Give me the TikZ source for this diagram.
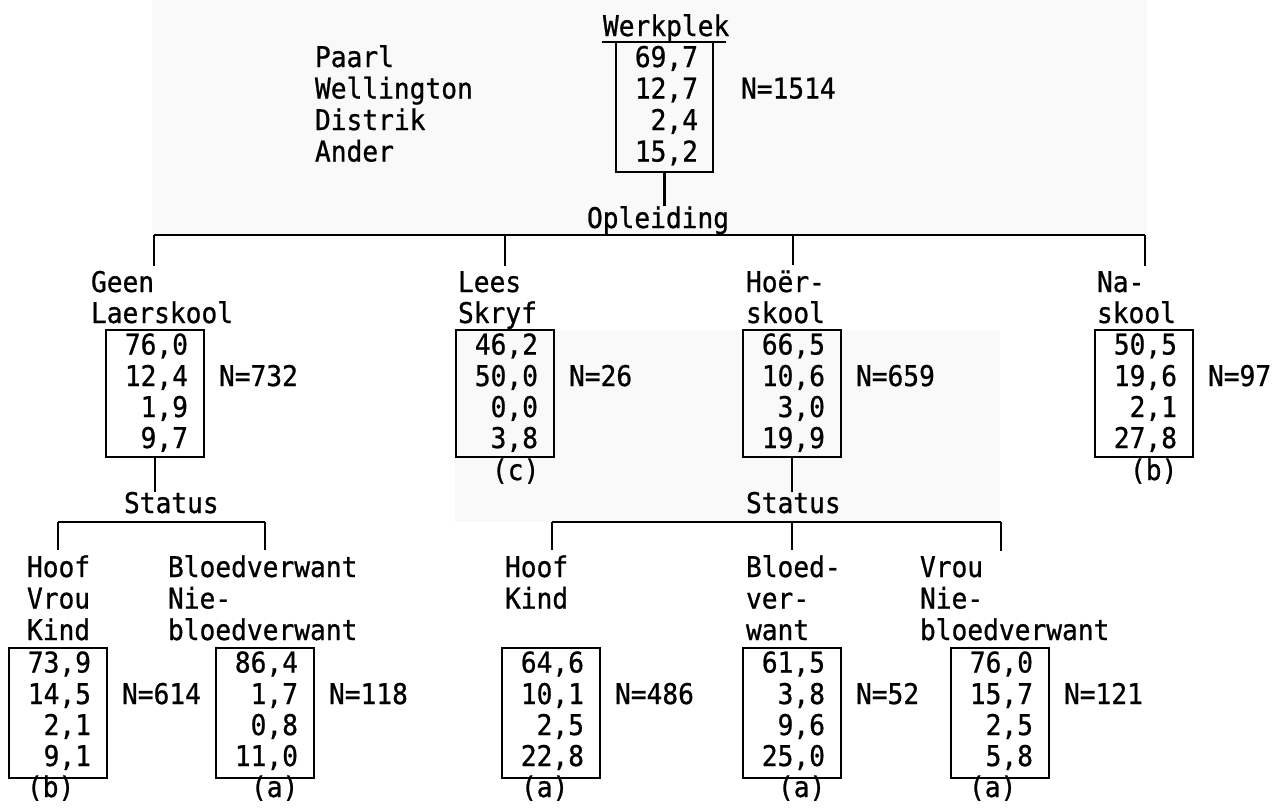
\documentclass[tikz,border=0pt]{standalone}
\usepackage{fontspec}
\newfontfamily\twfont[FakeStretch=0.92,FakeBold=0.8]{DejaVu Sans Mono}
\newcommand\databox[9]{%
  \node[boxnode, minimum height=#9pt, anchor=north west] (#1) at (#2,#3) {};
  \node[num] (#1-r1) at ({#2+82},{#3+24.5}) {#4};
  \node[num] (#1-r2) at ({#2+82},{#3+56}) {#5};
  \node[num] (#1-r3) at ({#2+82},{#3+87}) {#6};
  \node[num] (#1-r4) at ({#2+82},{#3+118}) {#7};
  \node[lbl] (#1-n) at ({#2+113},{#3+56}) {#8};
}
\begin{document}
\begin{tikzpicture}[x=1pt,y=-1pt,
  txt/.style={inner sep=0pt, outer sep=0pt, font=\twfont\fontsize{28.5}{31.5}\selectfont},
  lbl/.style={txt, anchor=base west},
  num/.style={txt, anchor=base east},
  ln/.style={line width=2.4pt},
  boxnode/.style={draw, line width=2.4pt, inner sep=0pt, outer sep=0pt, minimum width=98pt}
]
\useasboundingbox (0,0) rectangle (1286,809);
% faint scan shading
\fill[black!2.5] (152,0) rectangle (1147,235);
\fill[black!2.5] (455,331) rectangle (1000,522);

% ---- root ----
\node[lbl] (werk) at (603,36) {Werkplek};
\draw[ln] ([shift={(-1,6)}]werk.base west) -- ([shift={(-3,6)}]werk.base east);
\node[inner sep=0pt, outer sep=0pt, minimum width=97pt, minimum height=130pt, anchor=north west] (topbox) at (616,42) {};
\draw[ln] (topbox.north west) -- (topbox.south west) -- (topbox.south east) -- (topbox.north east);
\node[num] (top-r1) at (698,67) {69,7};
\node[num] (top-r2) at (698,98.5) {12,7};
\node[num] (top-r3) at (698,130) {2,4};
\node[num] (top-r4) at (698,161.5) {15,2};
\node[lbl] (top-n) at (741,98.5) {N=1514};
\node[lbl] (paarl) at (315,67) {Paarl};
\node[lbl] (well) at (315,98.5) {Wellington};
\node[lbl] (distr) at (315,130) {Distrik};
\node[lbl] (ander) at (315,161.5) {Ander};

\node[lbl] (opl) at (587,228) {Opleiding};
\draw[ln] (topbox.south) -- (topbox.south |- opl.north);

\coordinate (t1) at (154,235);
\coordinate (t2) at (505,235);
\coordinate (t3) at (793,235);
\coordinate (t4) at (1145,235);
\draw[ln] (t1) -- (t4);

% ---- level 1 ----
\node[lbl] (geen1) at (91,292) {Geen};
\node[lbl] (geen2) at (91,323) {Laerskool};
\node[lbl] (lees1) at (458,292) {Lees};
\node[lbl] (lees2) at (458,323) {Skryf};
\node[lbl] (hoer1) at (746,292) {Hoër-};
\node[lbl] (hoer2) at (746,323) {skool};
\node[lbl] (na1) at (1097,292) {Na-};
\node[lbl] (na2) at (1097,323) {skool};

\draw[ln, shorten >=5pt] (t1) -- (t1 |- geen1.north);
\draw[ln, shorten >=5pt] (t2) -- (t2 |- lees1.north);
\draw[ln, shorten >=5pt] (t3) -- (t3 |- hoer1.north);
\draw[ln, shorten >=5pt] (t4) -- (t4 |- na1.north);

\databox{gbox}{106}{330}{76,0}{12,4}{1,9}{9,7}{N=732}{127}
\databox{lbox}{456}{330}{46,2}{50,0}{0,0}{3,8}{N=26}{127}
\databox{hbox}{743}{330}{66,5}{10,6}{3,0}{19,9}{N=659}{127}
\databox{nbox}{1095}{330}{50,5}{19,6}{2,1}{27,8}{N=97}{127}

\node[lbl] (lsub) at (492,480) {(c)};
\node[lbl] (nsub) at (1130,480) {(b)};

% ---- status ----
\node[lbl] (st1) at (124,513) {Status};
\node[lbl] (st2) at (746,513) {Status};
\draw[ln] (gbox.south) -- (gbox.south |- st1.north);
\draw[ln] (hbox.south) -- (hbox.south |- st2.north);

\coordinate (s1) at (58,522);
\coordinate (s2) at (265,522);
\coordinate (s3) at (552,522);
\coordinate (s4) at (792,522);
\coordinate (s5) at (1001,522);
\draw[ln] (s1) -- (s2);
\draw[ln] (s3) -- (s5);

% ---- level 2 ----
\node[lbl] (ha1) at (27,577) {Hoof};
\node[lbl] (ha2) at (27,608.5) {Vrou};
\node[lbl] (ha3) at (27,640) {Kind};
\node[lbl] (ba1) at (168,577) {Bloedverwant};
\node[lbl] (ba2) at (168,608.5) {Nie-};
\node[lbl] (ba3) at (168,640) {bloedverwant};
\node[lbl] (hb1) at (505,577) {Hoof};
\node[lbl] (hb2) at (505,608.5) {Kind};
\node[lbl] (bb1) at (746,577) {Bloed-};
\node[lbl] (bb2) at (746,608.5) {ver-};
\node[lbl] (bb3) at (746,640) {want};
\node[lbl] (vr1) at (920,577) {Vrou};
\node[lbl] (vr2) at (920,608.5) {Nie-};
\node[lbl] (vr3) at (920,640) {bloedverwant};

\draw[ln, shorten >=5pt] (s1) -- (s1 |- ha1.north);
\draw[ln, shorten >=5pt] (s2) -- (s2 |- ba1.north);
\draw[ln, shorten >=5pt] (s3) -- (s3 |- hb1.north);
\draw[ln, shorten >=5pt] (s4) -- (s4 |- bb1.north);
\draw[ln, shorten >=5pt] (s5) -- (s5 |- vr1.north);

\databox{b1}{9}{648}{73,9}{14,5}{2,1}{9,1}{N=614}{130}
\databox{b2}{216}{648}{86,4}{1,7}{0,8}{11,0}{N=118}{130}
\databox{b3}{502}{648}{64,6}{10,1}{2,5}{22,8}{N=486}{130}
\databox{b4}{743}{648}{61,5}{3,8}{9,6}{25,0}{N=52}{130}
\databox{b5}{951}{648}{76,0}{15,7}{2,5}{5,8}{N=121}{130}

\node[lbl] (b1-sub) at (27,797) {(b)};
\node[lbl] (b2-sub) at (251,797) {(a)};
\node[lbl] (b3-sub) at (521,797) {(a)};
\node[lbl] (b4-sub) at (778,797) {(a)};
\node[lbl] (b5-sub) at (969,797) {(a)};
\end{tikzpicture}
\end{document}
